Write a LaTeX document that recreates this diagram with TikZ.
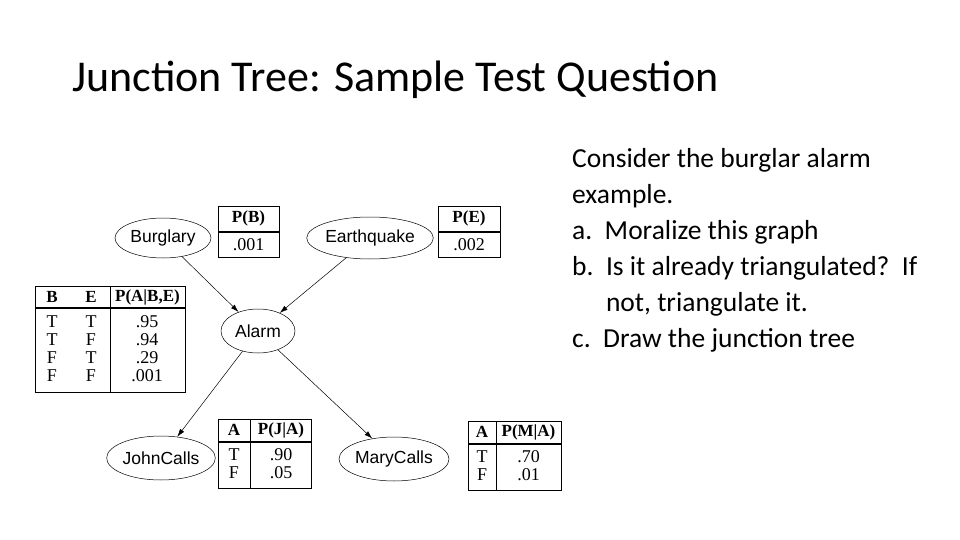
\documentclass[tikz,border=0pt]{standalone}
\usepackage{fontspec}
\setmainfont{Liberation Serif}
\newfontfamily\calib{Carlito}
\newfontfamily\arial{Liberation Sans}
\usetikzlibrary{shapes.geometric,arrows.meta}
\begin{document}
\begin{tikzpicture}[x=1pt,y=-1pt,
  var/.style={ellipse,draw,line width=0.5pt,font=\arial\fontsize{17.5}{17.5}\selectfont,inner sep=0pt},
  arr/.style={-{Latex[length=8pt,width=5pt]},line width=0.5pt},
  tb/.style={draw,line width=1pt},
  cell/.style={font=\fontsize{18}{18}\selectfont,inner sep=0pt},
  hd/.style={font=\bfseries\fontsize{17}{17}\selectfont,inner sep=0pt}]
\useasboundingbox[fill=white] (0,0) rectangle (960,540);
\node[anchor=west,font=\calib\fontsize{44}{44}\selectfont,inner sep=0pt] (title) at (72,80) {Junction Tree: Sample Test Question};
\node[anchor=north west,align=left,font=\calib\fontsize{27.5}{36}\selectfont,inner sep=0pt] (q) at (572,148)
{Consider the burglar alarm\\example.\\a.\ \ Moralize this graph\\b.\ \ Is it already triangulated?\ \ If\\\hphantom{b.\ \ }not, triangulate it.\\c.\ \ Draw the junction tree};
% variables
\node[var,minimum width=96,minimum height=40] (B) at (163,238) {Burglary};
\node[var,minimum width=116,minimum height=42] (E) at (370,238) {Earthquake};
\node[var,minimum width=74,minimum height=44] (A) at (258,331) {Alarm};
\node[var,minimum width=106,minimum height=44] (J) at (161,458) {JohnCalls};
\node[var,minimum width=104,minimum height=44] (M) at (394,459) {MaryCalls};
\draw[arr] (B) -- (A);
\draw[arr] (E) -- (A);
\draw[arr] (A) -- (J);
\draw[arr] (A) -- (M);
% P(B)
\draw[tb] (218,206) rectangle (279,257);
\draw[line width=2pt] (218,232) -- (279,232);
\node[hd] (pb) at (248.5,218) {P(B)};
\node[cell] (pbv) at (248.5,245) {.001};
% P(E)
\draw[tb] (438,206) rectangle (500,257);
\draw[line width=2pt] (438,232) -- (500,232);
\node[hd] (pe) at (469,218) {P(E)};
\node[cell] (pev) at (469,245) {.002};
% P(A|B,E)
\draw[tb] (35,286) rectangle (185,392);
\draw[line width=2pt] (35,308) -- (185,308);
\draw[line width=1pt] (110,286) -- (110,392);
\node[hd] (h1) at (52,297) {B};
\node[hd] (h2) at (91,297) {E};
\node[hd] (h3) at (147.5,297) {P(A|B,E)};
\foreach \b/\e/\p [count=\i] in {T/T/.95,T/F/.94,F/T/.29,F/F/.001}{
  \node[cell] (b\i) at (52,304+18*\i) {\b};
  \node[cell] (e\i) at (91,304+18*\i) {\e};
  \node[cell] (p\i) at (147,304+18*\i) {\p};
}
% P(J|A)
\draw[tb] (218,419) rectangle (311,488);
\draw[line width=2pt] (218,442) -- (311,442);
\draw[line width=1pt] (250,419) -- (250,488);
\node[hd] (ja) at (234,430) {A};
\node[hd] (jp) at (281,430) {P(J|A)};
\node[cell] (jt) at (234,455) {T};
\node[cell] (jf) at (234,473) {F};
\node[cell] (jv1) at (281,455) {.90};
\node[cell] (jv2) at (281,473) {.05};
% P(M|A)
\draw[tb] (468,421) rectangle (561,490);
\draw[line width=2pt] (468,444) -- (561,444);
\draw[line width=1pt] (496,421) -- (496,490);
\node[hd] (ma) at (482,432) {A};
\node[hd] (mp) at (528.5,432) {P(M|A)};
\node[cell] (mt) at (482,457) {T};
\node[cell] (mf) at (482,475) {F};
\node[cell] (mv1) at (528.5,457) {.70};
\node[cell] (mv2) at (528.5,475) {.01};
\end{tikzpicture}
\end{document}
